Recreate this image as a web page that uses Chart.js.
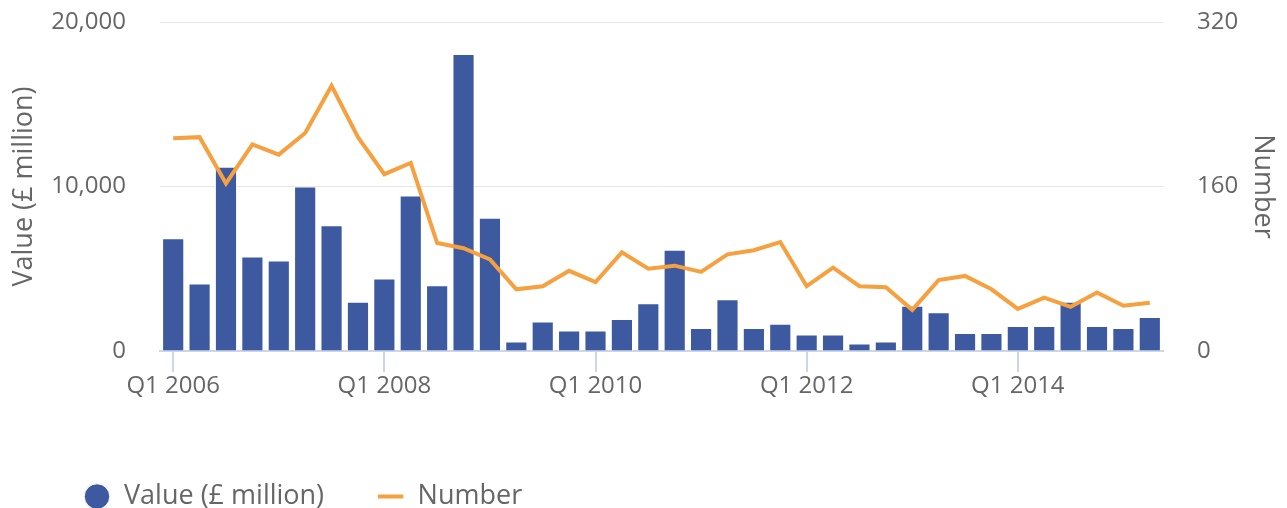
<!DOCTYPE html>
<html>
<head>
<meta charset="utf-8">
<script src="https://cdn.jsdelivr.net/npm/chart.js@4.4.1/dist/chart.umd.min.js"></script>
<style>
  body { margin: 0; background: #ffffff; }
  #wrap { width: 1287px; height: 508px; }
</style>
</head>
<body>
<div id="wrap"><canvas id="mergersChart" width="1287" height="508"></canvas></div>
<script>
// quarters Q1 2006 .. Q2 2015
const quarters = [
  'Q1 2006','Q2 2006','Q3 2006','Q4 2006',
  'Q1 2007','Q2 2007','Q3 2007','Q4 2007',
  'Q1 2008','Q2 2008','Q3 2008','Q4 2008',
  'Q1 2009','Q2 2009','Q3 2009','Q4 2009',
  'Q1 2010','Q2 2010','Q3 2010','Q4 2010',
  'Q1 2011','Q2 2011','Q3 2011','Q4 2011',
  'Q1 2012','Q2 2012','Q3 2012','Q4 2012',
  'Q1 2013','Q2 2013','Q3 2013','Q4 2013',
  'Q1 2014','Q2 2014','Q3 2014','Q4 2014',
  'Q1 2015','Q2 2015'
];

// £ million (bars, left axis)
const valueMillions = [
  6850, 4100, 11200, 5750, 5500, 10000, 7650, 3000, 4400, 9450,
  4000, 18050, 8100, 570, 1800, 1250, 1250, 1950, 2900, 6150,
  1400, 3150, 1400, 1650, 1000, 1000, 450, 570, 2750, 2350,
  1100, 1100, 1520, 1520, 3000, 1520, 1400, 2070
];

// number of deals (line, right axis)
const dealCount = [
  207, 208, 163, 201, 191, 212, 258, 208, 172, 183,
  105, 100, 89, 60, 63, 78, 67, 96, 80, 83,
  77, 94, 98, 106, 63, 81, 63, 62, 40, 69,
  73, 60, 41, 52, 43, 57, 44, 47
];

const leftTicks = [0, 10000, 20000];
const rightTicks = [0, 160, 320];

const blue = '#3d5aa0';
const orange = '#f6a03f';
const grey = '#666666';
const axisBlue = '#ccd6eb';

const tickFont = { family: 'Open Sans', size: 24 };
const titleFont = { family: 'Open Sans', size: 27 };

// push the legend items right (chart.js has no left margin option for it)
const legendNudge = {
  id: 'legendNudge',
  afterLayout(chart) {
    chart.legend.left += 30.5;
  }
};

// tick padding also gets added to the vertical overhang, undo that
function fixY(width) {
  return (s) => {
    s.width = width;
    s.paddingTop = 14;
    s.paddingBottom = 14;
  };
}

const config = {
  type: 'bar',
  data: {
    labels: quarters,
    datasets: [
      {
        type: 'bar',
        label: 'Value (£ million)',
        data: valueMillions,
        backgroundColor: blue,
        borderColor: '#ffffff',
        borderWidth: 1,
        borderSkipped: 'bottom',
        barPercentage: 0.84,
        categoryPercentage: 1,
        yAxisID: 'y',
        order: 2,
        pointStyle: 'circle'
      },
      {
        type: 'line',
        label: 'Number',
        data: dealCount,
        borderColor: orange,
        backgroundColor: orange,
        borderWidth: 4,
        tension: 0,
        pointRadius: 0,
        fill: false,
        yAxisID: 'y1',
        order: 1,
        pointStyle: 'line'
      }
    ]
  },
  options: {
    responsive: false,
    animation: false,
    devicePixelRatio: 1,
    layout: { padding: { top: 22, left: 0, right: 0, bottom: -12 } },
    plugins: {
      tooltip: { enabled: false },
      legend: {
        position: 'bottom',
        align: 'start',
        labels: {
          usePointStyle: true,
          boxWidth: 27,
          boxHeight: 18,
          padding: 53,
          color: grey,
          font: titleFont,
          sort: (a, b) => a.datasetIndex - b.datasetIndex
        }
      }
    },
    scales: {
      x: {
        offset: true,
        grid: {
          offset: false,
          drawOnChartArea: false,
          drawTicks: true,
          tickLength: 21,
          lineWidth: 2,
          color: (c) => (c.index % 8 === 0 ? axisBlue : 'rgba(0,0,0,0)')
        },
        border: { display: true, color: axisBlue, width: 2 },
        ticks: {
          autoSkip: false,
          maxRotation: 0,
          minRotation: 0,
          padding: 0,
          color: grey,
          font: tickFont,
          callback: (v, i) => (i % 8 === 0 ? quarters[i] : '')
        },
        afterFit: (s) => { s.height = 79; }
      },
      y: {
        position: 'left',
        min: 0,
        max: 20000,
        afterBuildTicks: (s) => { s.ticks = leftTicks.map(v => ({ value: v })); },
        grid: { color: '#e6e6e6', lineWidth: 1, drawTicks: false },
        border: { display: false },
        ticks: {
          padding: 34,
          color: grey,
          font: tickFont,
          callback: (v) => v.toLocaleString('en-GB')
        },
        title: {
          display: true,
          text: 'Value (£ million)',
          color: grey,
          font: titleFont,
          padding: { top: 8, bottom: 0 }
        },
        afterFit: fixY(160)
      },
      y1: {
        position: 'right',
        min: 0,
        max: 320,
        afterBuildTicks: (s) => { s.ticks = rightTicks.map(v => ({ value: v })); },
        grid: { display: false, drawTicks: false },
        border: { display: false },
        ticks: {
          padding: 34,
          color: grey,
          font: tickFont
        },
        title: {
          display: true,
          text: 'Number',
          color: grey,
          font: titleFont,
          padding: { top: 8, bottom: 0 }
        },
        afterFit: fixY(124)
      }
    }
  },
  plugins: [legendNudge]
};

const mergersChart = new Chart(document.getElementById('mergersChart'), config);
</script>
</body>
</html>
